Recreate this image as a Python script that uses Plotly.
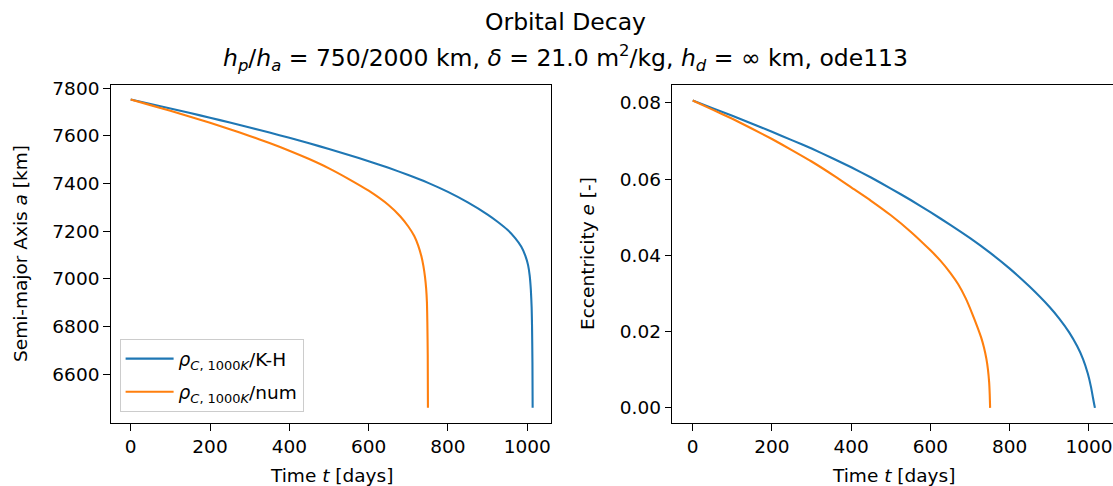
import plotly.graph_objects as go

# ---- data ----
# semi-major axis a [km] vs time [days]
t_a_kh = [0, 50, 100, 150, 200, 250, 300, 350, 400, 450, 500, 550, 600, 650, 700, 750, 800, 850, 900,
          925, 950, 970, 985, 995, 1002, 1006, 1009, 1011, 1012, 1013, 1013.5]
a_kh = [7753, 7734, 7715, 7696, 7676, 7656, 7635, 7614, 7592, 7569, 7545, 7520, 7494, 7466, 7436, 7403, 7365, 7321, 7270,
        7240, 7206, 7170, 7135, 7098, 7058, 7015, 6955, 6880, 6800, 6650, 6460]

t_a_num = [0, 50, 100, 150, 200, 250, 300, 350, 400, 450, 500, 550, 600, 650, 680, 700, 715, 725, 733, 738, 742,
           745, 747, 748, 749, 749.5]
a_num = [7753, 7729, 7705, 7680, 7655, 7628, 7600, 7570, 7538, 7503, 7464, 7419, 7370, 7310, 7262, 7220, 7180, 7140, 7095,
         7055, 7010, 6960, 6900, 6820, 6680, 6460]

# eccentricity e [-] vs time [days]
t_e_kh = [0, 50, 100, 150, 200, 250, 300, 350, 400, 450, 500, 550, 600, 650, 700, 750, 800, 850, 900,
          925, 950, 970, 985, 997, 1005, 1010, 1013, 1015]
e_kh = [0.0806, 0.0786, 0.0766, 0.0745, 0.0724, 0.0702, 0.0680, 0.0656, 0.0631, 0.0604, 0.0575, 0.0545, 0.0513,
        0.0480, 0.0445, 0.0407, 0.0365, 0.0318, 0.0265, 0.0234, 0.0198, 0.0162, 0.0128, 0.0090, 0.0055, 0.0027,
        0.0010, 0.0]

t_e_num = [0, 50, 100, 150, 200, 250, 300, 359, 400, 450, 500, 550, 600, 625, 650, 670, 689, 705, 718, 728, 735,
           741, 745, 748, 749.5, 750.5]
e_num = [0.0806, 0.0782, 0.0758, 0.0732, 0.0705, 0.0676, 0.0646, 0.0607, 0.0578, 0.0543, 0.0505, 0.0462, 0.0413,
         0.0386, 0.0354, 0.0324, 0.0287, 0.0248, 0.0213, 0.0184, 0.0158, 0.0129, 0.0101, 0.0068, 0.0036, 0.0]

x_ticks = [0, 200, 400, 600, 800, 1000]
a_ticks = [6600, 6800, 7000, 7200, 7400, 7600, 7800]
e_ticks = [0.0, 0.02, 0.04, 0.06, 0.08]

name_kh = "<i>ρ</i><sub><i>C</i>, 1000<i>K</i></sub>/K-H"
name_num = "<i>ρ</i><sub><i>C</i>, 1000<i>K</i></sub>/num"

BLUE = "#1f77b4"
ORANGE = "#ff7f0e"
FONT = "DejaVu Sans"
FS = 18.5

def line(color):
    return dict(color=color, width=2.1, shape="spline", smoothing=0.5)

fig = go.Figure()
fig.add_trace(go.Scatter(x=t_a_kh, y=a_kh, mode="lines", name=name_kh, legendgroup="kh",
                         line=line(BLUE), xaxis="x", yaxis="y"))
fig.add_trace(go.Scatter(x=t_a_num, y=a_num, mode="lines", name=name_num, legendgroup="num",
                         line=line(ORANGE), xaxis="x", yaxis="y"))
fig.add_trace(go.Scatter(x=t_e_kh, y=e_kh, mode="lines", name=name_kh, showlegend=False,
                         line=line(BLUE), xaxis="x2", yaxis="y2"))
fig.add_trace(go.Scatter(x=t_e_num, y=e_num, mode="lines", name=name_num, showlegend=False,
                         line=line(ORANGE), xaxis="x2", yaxis="y2"))

W, H = 1113, 486
def px(x):
    return x / W
def py(y):
    return (H - y) / H

axis_common = dict(showline=True, linecolor="black", linewidth=1.1, ticks="outside", ticklen=6.5,
                   tickwidth=1.1, tickcolor="black", showgrid=False, zeroline=False,
                   tickfont=dict(family=FONT, size=FS, color="black"))

ydom = [py(422.3), py(79)]
fig.update_layout(
    width=W, height=H, margin=dict(l=0, r=0, t=0, b=0),
    plot_bgcolor="white", paper_bgcolor="white",
    font=dict(family=FONT, size=FS, color="black"),
    xaxis=dict(domain=[px(110.7), px(551)], range=[-50.4, 1059.8], anchor="y", mirror=True,
               tickvals=x_ticks, **axis_common),
    yaxis=dict(domain=ydom, range=[6395, 7814], anchor="x", mirror=True,
               tickvals=a_ticks, **axis_common),
    xaxis2=dict(domain=[px(672.3), 1.0], range=[-51.5, 1060.6], anchor="y2", mirror=True,
                tickvals=x_ticks, **axis_common),
    yaxis2=dict(domain=ydom, range=[-0.00403, 0.0847], anchor="x2", mirror=False,
                tickvals=e_ticks, tickformat=".2f", **axis_common),
    legend=dict(x=px(119.6), y=py(337), xanchor="left", yanchor="top",
                bgcolor="rgba(255,255,255,0.8)", bordercolor="#cccccc", borderwidth=1,
                font=dict(family=FONT, size=FS, color="black"), tracegroupgap=6, itemwidth=48),
    showlegend=True,
)

ann = [
    dict(text="Orbital Decay", x=px(565), y=py(15.5), font=dict(size=23.5)),
    dict(text="<i>h</i><sub><i>p</i></sub>/<i>h</i><sub><i>a</i></sub> = 750/2000 km, <i>δ</i> = 21.0 m<sup>2</sup>/kg, "
              "<i>h</i><sub><i>d</i></sub> = ∞ km, ode113", x=px(565), y=py(52), font=dict(size=23.5)),
    dict(text="Time <i>t</i> [days]", x=px(331), y=py(475), font=dict(size=FS)),
    dict(text="Time <i>t</i> [days]", x=px(893), y=py(475), font=dict(size=FS)),
    dict(text="Semi-major Axis <i>a</i> [km]", x=px(21), y=py(250.6), textangle=-90, font=dict(size=FS)),
    dict(text="Eccentricity <i>e</i> [-]", x=px(588), y=py(250.6), textangle=-90, font=dict(size=FS)),
]
for a in ann:
    fig.add_annotation(xref="paper", yref="paper", showarrow=False, xanchor="center", yanchor="middle",
                       font=dict(family=FONT, size=a["font"]["size"], color="black"),
                       **{k: v for k, v in a.items() if k != "font"})

fig.write_html("out.html")
